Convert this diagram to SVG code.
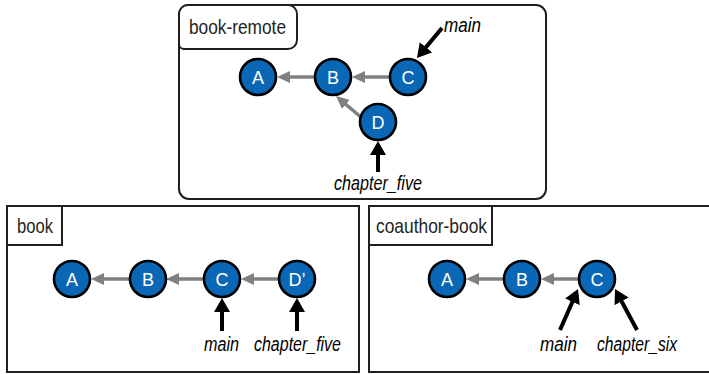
<svg xmlns="http://www.w3.org/2000/svg" width="709" height="374" viewBox="0 0 709 374">
<style>
.frame{fill:#fff;stroke:#231f20;stroke-width:2}
.tag{fill:#fff;stroke:#231f20;stroke-width:2}
.tagt{font-family:"Liberation Sans",Arial,sans-serif;font-size:21px;fill:#231f20}
.node circle{fill:#0a67b5;stroke:#000;stroke-width:2.6}
.node text{font-family:"Liberation Sans",Arial,sans-serif;font-size:18px;fill:#fff;text-anchor:middle}
.ref{font-family:"Liberation Sans",Arial,sans-serif;font-size:20px;font-style:italic;fill:#000}
.g{stroke:#808080;stroke-width:3.5;fill:none;marker-end:url(#ga)}
.b{stroke:#000;stroke-width:4;fill:none;marker-end:url(#ba)}
</style>
<defs>
<marker id="ga" viewBox="0 0 13 12" markerWidth="13" markerHeight="12" markerUnits="userSpaceOnUse" refX="3" refY="6" orient="auto"><path d="M0,0 L13,6 L0,12 z" fill="#808080"/></marker>
<marker id="ba" viewBox="0 0 14 16" markerWidth="14" markerHeight="16" markerUnits="userSpaceOnUse" refX="3" refY="8" orient="auto"><path d="M0,0 L14,8 L0,16 z" fill="#000"/></marker>
</defs>
<rect width="709" height="374" fill="#fff"/>
<g id="book-remote">
<rect class="frame" x="179" y="5" width="367" height="194" rx="10"/>
<path class="tag" d="M179,44 V14 a9,9 0 0 1 9,-9 H288 a9,9 0 0 1 9,9 V40 a9,9 0 0 1 -9,9 H184 a5,5 0 0 1 -5,-5 z"/>
<text class="tagt" x="189" y="34" textLength="97" lengthAdjust="spacingAndGlyphs">book-remote</text>
</g>
<g id="book">
<rect class="frame" x="7" y="206" width="352" height="166"/>
<rect class="tag" x="7" y="206" width="55" height="39"/>
<text class="tagt" x="17" y="233" textLength="36" lengthAdjust="spacingAndGlyphs">book</text>
</g>
<g id="coauthor-book">
<rect class="frame" x="369" y="206" width="345" height="166"/>
<rect class="tag" x="369" y="206" width="123" height="39"/>
<text class="tagt" x="376" y="233" textLength="111" lengthAdjust="spacingAndGlyphs">coauthor-book</text>
</g>
<g id="connectors">
<line class="g" x1="315" y1="77" x2="287" y2="77"/>
<line class="g" x1="390" y1="77" x2="362" y2="77"/>
<line class="g" x1="362" y1="118" x2="343.6" y2="102.5"/>
<line class="b" x1="442" y1="28" x2="424" y2="49.6"/>
<line class="b" x1="378" y1="172" x2="378" y2="152"/>
<line class="g" x1="130" y1="279" x2="101" y2="279"/>
<line class="g" x1="204" y1="279" x2="176" y2="279"/>
<line class="g" x1="279" y1="279" x2="251" y2="279"/>
<line class="b" x1="222" y1="331" x2="222" y2="309"/>
<line class="b" x1="297" y1="331" x2="297" y2="309"/>
<line class="g" x1="504" y1="279" x2="476" y2="279"/>
<line class="g" x1="579" y1="279" x2="551" y2="279"/>
<line class="b" x1="560" y1="330" x2="573.6" y2="299.1"/>
<line class="b" x1="637" y1="330" x2="620.2" y2="298.7"/>
</g>
<g id="r-A" class="node"><circle cx="258" cy="77" r="18"/><text x="258" y="83.5">A</text></g>
<g id="r-B" class="node"><circle cx="333" cy="77" r="18"/><text x="333" y="83.5">B</text></g>
<g id="r-C" class="node"><circle cx="408" cy="77" r="18"/><text x="408" y="83.5">C</text></g>
<g id="r-D" class="node"><circle cx="378" cy="122" r="18"/><text x="378" y="128.5">D</text></g>
<g id="r-main"><text class="ref" x="444" y="32" textLength="37" lengthAdjust="spacingAndGlyphs">main</text></g>
<g id="r-chapter_five"><text class="ref" x="334" y="190" textLength="88" lengthAdjust="spacingAndGlyphs">chapter_five</text></g>
<g id="b-A" class="node"><circle cx="72" cy="279" r="18"/><text x="72" y="285.5">A</text></g>
<g id="b-B" class="node"><circle cx="148" cy="279" r="18"/><text x="148" y="285.5">B</text></g>
<g id="b-C" class="node"><circle cx="222" cy="279" r="18"/><text x="222" y="285.5">C</text></g>
<g id="b-D" class="node"><circle cx="297" cy="279" r="18"/><text x="297" y="285.5">D’</text></g>
<g id="b-main"><text class="ref" x="204" y="351" textLength="35" lengthAdjust="spacingAndGlyphs">main</text></g>
<g id="b-chapter_five"><text class="ref" x="254" y="351" textLength="87" lengthAdjust="spacingAndGlyphs">chapter_five</text></g>
<g id="c-A" class="node"><circle cx="447" cy="279" r="18"/><text x="447" y="285.5">A</text></g>
<g id="c-B" class="node"><circle cx="522" cy="279" r="18"/><text x="522" y="285.5">B</text></g>
<g id="c-C" class="node"><circle cx="597" cy="279" r="18"/><text x="597" y="285.5">C</text></g>
<g id="c-main"><text class="ref" x="540" y="351" textLength="37" lengthAdjust="spacingAndGlyphs">main</text></g>
<g id="c-chapter_six"><text class="ref" x="597" y="351" textLength="80" lengthAdjust="spacingAndGlyphs">chapter_six</text></g>
</svg>
